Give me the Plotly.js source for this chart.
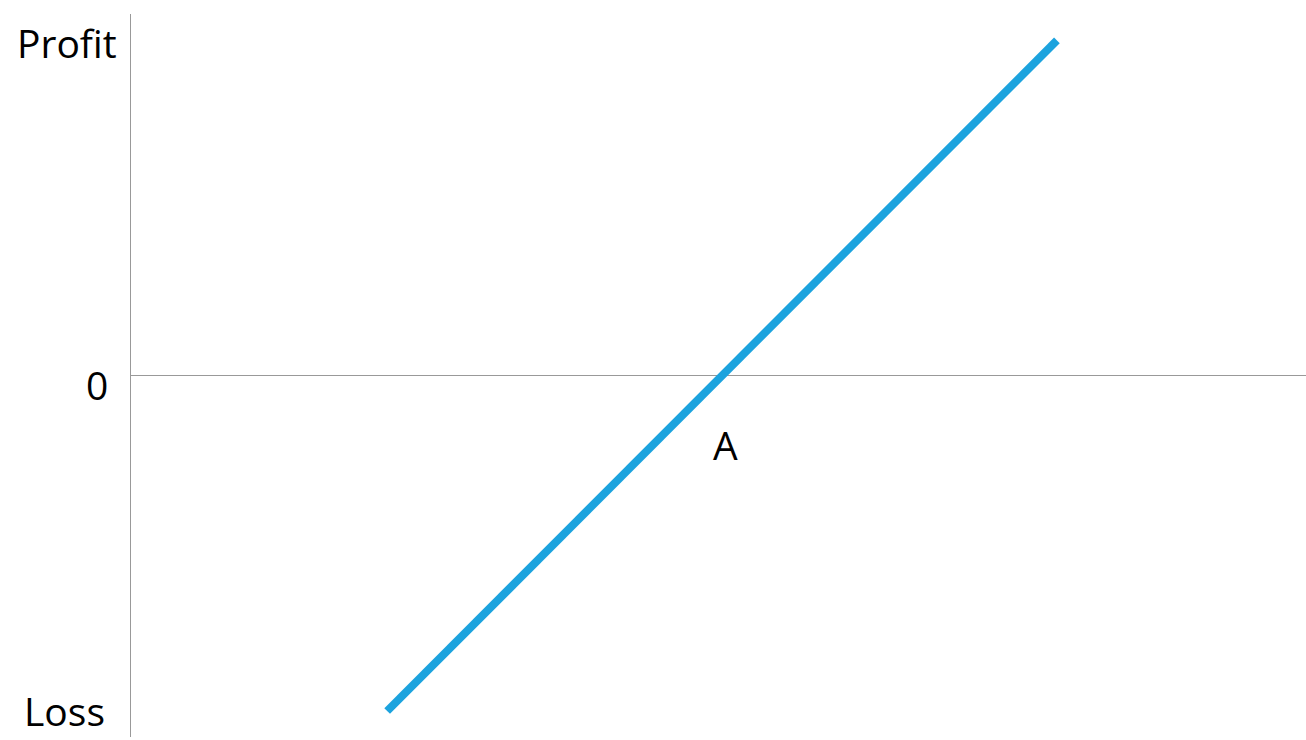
<!DOCTYPE html>
<html>
<head>
<meta charset="utf-8">
<script src="https://cdn.plot.ly/plotly-3.0.1.min.js"></script>
<style>html,body{margin:0;padding:0;background:#fff;}#chart{width:1306px;height:740px;}</style>
</head>
<body>
<div id="chart"></div>
<script>
// Data (arbitrary units: output along x, profit along y)
const lineX = [21.8, 78.8];
const lineY = [-92.8, 92.7];
const axisLabels = ["Profit", "0", "Loss"];
const pointLabel = "A";

const FONT = {family: "Open Sans, Liberation Sans, sans-serif", size: 39, color: "#000"};

const trace = {
  x: lineX, y: lineY, type: "scatter", mode: "lines",
  line: {color: "#1CA3DE", width: 8},
  hoverinfo: "skip", showlegend: false
};

const layout = {
  width: 1306, height: 740,
  margin: {l: 131, r: 0, t: 14, b: 3, pad: 0},
  paper_bgcolor: "#fff", plot_bgcolor: "#fff",
  xaxis: {range: [0, 100], visible: false, fixedrange: true},
  yaxis: {
    range: [-100, 100], showgrid: false, showticklabels: false, ticks: "",
    showline: true, linecolor: "#999", linewidth: 1.5,
    zeroline: true, zerolinecolor: "#999", zerolinewidth: 1.5, fixedrange: true
  },
  annotations: [
    {text: axisLabels[0], xref: "paper", yref: "y", x: 0, y: 92.1, xanchor: "right", yanchor: "middle", xshift: -12, showarrow: false, font: FONT},
    {text: axisLabels[1], xref: "paper", yref: "y", x: 0, y: -2.5, xanchor: "right", yanchor: "middle", xshift: -21, showarrow: false, font: FONT},
    {text: axisLabels[2], xref: "paper", yref: "paper", x: 0, y: 0, xanchor: "right", yanchor: "bottom", xshift: -24, yshift: -2, showarrow: false, font: FONT},
    {text: pointLabel, xref: "x", yref: "y", x: 50.6, y: -19.1, xanchor: "center", yanchor: "middle", showarrow: false, font: FONT}
  ]
};

Plotly.newPlot("chart", [trace], layout, {displayModeBar: false, staticPlot: true});
</script>
</body>
</html>
